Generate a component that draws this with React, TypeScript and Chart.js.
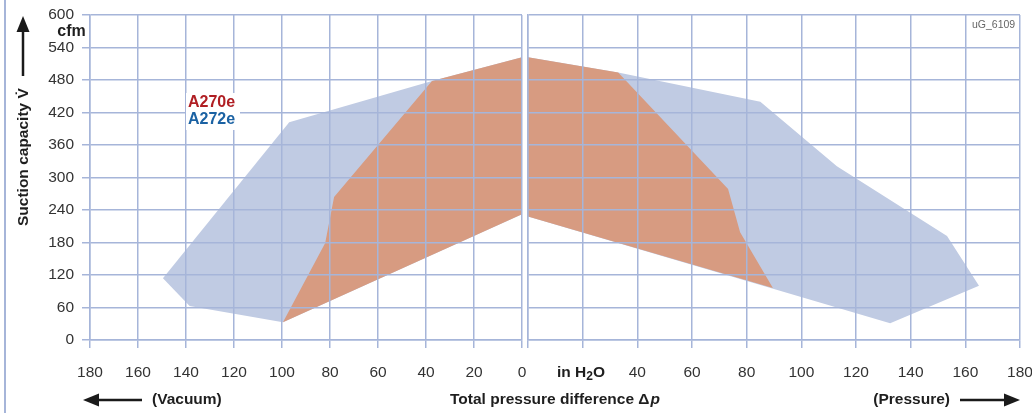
import React, { useEffect, useRef } from 'react';
import { Chart, registerables } from 'chart.js';

Chart.register(...registerables);

// ---- Data (in H2O vs cfm) ----
const yTickValues = [0, 60, 120, 180, 240, 300, 360, 420, 480, 540, 600];
const xTickValues = [0, 20, 40, 60, 80, 100, 120, 140, 160, 180];
const pressureHiddenTicks = [0, 20];

// Vacuum side (left panel)
const vacuumA270eX = [0, 99.6, 82, 78.3, 37.5, 0];
const vacuumA270eY = [232, 33, 179, 264, 478, 522];
const vacuumA272eX = [0, 99.6, 138.5, 149.6, 97, 37.5, 0];
const vacuumA272eY = [232, 33, 63, 114, 402, 478, 522];

// Pressure side (right panel)
const pressureA270eX = [0, 33, 73.2, 77.6, 89.6, 0];
const pressureA270eY = [522, 494, 279, 199, 96, 228];
const pressureA272eX = [0, 33, 85, 113, 153.3, 165, 132.5, 0];
const pressureA272eY = [522, 494, 440, 321, 192, 100, 31, 228];

const seriesNames = ['A270e', 'A272e'];
const seriesTextColors = ['#b01e23', '#1b62a3'];
const seriesFillColors = ['#d79b81', '#c0cbe3'];

const GRID = '#a6b5d9';
const FONT = "'Liberation Sans', Arial, Helvetica, sans-serif";
const TICK_COLOR = '#333333';
const TEXT_COLOR = '#1e1e1e';

const toPoints = (xs: number[], ys: number[]) => xs.map((x, i) => ({ x, y: ys[i] }));

function drawArrow(ctx: CanvasRenderingContext2D, x1: number, y1: number, x2: number, y2: number) {
  const head = 16;
  const half = 6.5;
  const dx = x2 - x1;
  const dy = y2 - y1;
  const len = Math.hypot(dx, dy);
  const ux = dx / len;
  const uy = dy / len;
  const bx = x2 - ux * head;
  const by = y2 - uy * head;
  ctx.strokeStyle = '#1a1a1a';
  ctx.fillStyle = '#1a1a1a';
  ctx.lineWidth = 2.5;
  ctx.beginPath();
  ctx.moveTo(x1, y1);
  ctx.lineTo(bx + ux * 2, by + uy * 2);
  ctx.stroke();
  ctx.beginPath();
  ctx.moveTo(x2, y2);
  ctx.lineTo(bx - uy * half, by + ux * half);
  ctx.lineTo(bx + uy * half, by - ux * half);
  ctx.closePath();
  ctx.fill();
}

function makeDatasets(a270x: number[], a270y: number[], a272x: number[], a272y: number[]) {
  return [
    {
      label: seriesNames[0],
      data: toPoints(a270x, a270y),
      showLine: true,
      fill: 'shape',
      backgroundColor: seriesFillColors[0],
      borderColor: seriesFillColors[0],
      borderWidth: 0,
      pointRadius: 0,
      tension: 0,
      order: 0,
    },
    {
      label: seriesNames[1],
      data: toPoints(a272x, a272y),
      showLine: true,
      fill: 'shape',
      backgroundColor: seriesFillColors[1],
      borderColor: seriesFillColors[1],
      borderWidth: 0,
      pointRadius: 0,
      tension: 0,
      order: 1,
    },
  ];
}

const leftTexts = {
  id: 'leftTexts',
  afterDraw(chart: any) {
    const ctx: CanvasRenderingContext2D = chart.ctx;
    ctx.save();
    // far-left frame line
    ctx.fillStyle = GRID;
    ctx.fillRect(4, 0, 2, 413);

    // y axis title
    ctx.save();
    ctx.translate(24, 226);
    ctx.rotate(-Math.PI / 2);
    ctx.font = `bold 15.5px ${FONT}`;
    ctx.fillStyle = TEXT_COLOR;
    ctx.textAlign = 'left';
    ctx.textBaseline = 'middle';
    ctx.fillText('Suction capacity V\u0307', 0, 0);
    ctx.restore();
    drawArrow(ctx, 23, 76, 23, 16);

    // unit
    ctx.font = `bold 16px ${FONT}`;
    ctx.fillStyle = TEXT_COLOR;
    ctx.textAlign = 'center';
    ctx.textBaseline = 'middle';
    ctx.fillText('cfm', 71.5, 32);

    // legend
    ctx.fillStyle = '#ffffff';
    ctx.fillRect(186, 93, 54, 37);
    ctx.font = `bold 16px ${FONT}`;
    ctx.textAlign = 'left';
    ctx.textBaseline = 'middle';
    ctx.fillStyle = seriesTextColors[0];
    ctx.fillText(seriesNames[0], 188, 103);
    ctx.fillStyle = seriesTextColors[1];
    ctx.fillText(seriesNames[1], 188, 120);

    // bottom annotations
    drawArrow(ctx, 142, 400, 83, 400);
    ctx.font = `bold 15.5px ${FONT}`;
    ctx.fillStyle = TEXT_COLOR;
    ctx.textAlign = 'left';
    ctx.textBaseline = 'middle';
    ctx.fillText('(Vacuum)', 152, 400);

    let x = 450;
    const t1 = 'Total pressure difference ';
    ctx.fillText(t1, x, 400);
    x += ctx.measureText(t1).width;
    ctx.fillText('\u0394', x, 400);
    x += ctx.measureText('\u0394').width;
    ctx.font = `italic bold 15.5px ${FONT}`;
    ctx.fillText('p', x + 1, 400);

    // unit "in H2O"
    ctx.font = `bold 15.5px ${FONT}`;
    let ux = 557;
    ctx.fillText('in H', ux, 373);
    ux += ctx.measureText('in H').width;
    ctx.font = `bold 12px ${FONT}`;
    ctx.fillText('2', ux, 377);
    ux += ctx.measureText('2').width;
    ctx.font = `bold 15.5px ${FONT}`;
    ctx.fillText('O', ux, 373);
    ctx.restore();
  },
};

const RIGHT_OFFSET = 520;

const rightTexts = {
  id: 'rightTexts',
  afterDraw(chart: any) {
    const ctx: CanvasRenderingContext2D = chart.ctx;
    ctx.save();
    ctx.font = `10.5px ${FONT}`;
    ctx.fillStyle = '#666666';
    ctx.textAlign = 'left';
    ctx.textBaseline = 'middle';
    ctx.fillText('uG_6109', 972 - RIGHT_OFFSET, 25);

    ctx.font = `bold 15.5px ${FONT}`;
    ctx.fillStyle = TEXT_COLOR;
    ctx.textAlign = 'right';
    ctx.fillText('(Pressure)', 950 - RIGHT_OFFSET, 400);
    drawArrow(ctx, 960 - RIGHT_OFFSET, 400, 1020 - RIGHT_OFFSET, 400);
    ctx.restore();
  },
};

function baseScales(reverse: boolean, showY: boolean, hiddenX: number[]) {
  return {
    x: {
      type: 'linear',
      min: 0,
      max: 180,
      reverse,
      afterBuildTicks: (scale: any) => {
        scale.ticks = xTickValues.map((v) => ({ value: v }));
      },
      afterFit: (scale: any) => {
        scale.height = 73;
        scale.paddingLeft = 0;
        scale.paddingRight = 0;
      },
      grid: { color: GRID, lineWidth: 1.5, tickLength: 8, z: 1 },
      border: { color: GRID, width: 1.5, z: 1 },
      ticks: {
        padding: 15,
        maxRotation: 0,
        autoSkip: false,
        color: TICK_COLOR,
        font: { family: FONT, size: 15.5 },
        callback: (v: any) => (hiddenX.indexOf(Number(v)) >= 0 ? '' : String(v)),
      },
    },
    y: {
      type: 'linear',
      min: 0,
      max: 600,
      afterBuildTicks: (scale: any) => {
        scale.ticks = yTickValues.map((v) => ({ value: v }));
      },
      afterFit: (scale: any) => {
        scale.width = showY ? 90 : 0;
        scale.paddingTop = 0;
        scale.paddingBottom = 0;
      },
      grid: { color: GRID, lineWidth: 1.5, tickLength: showY ? 8 : 0, drawTicks: showY, z: 1 },
      border: { color: GRID, width: 1.5, z: 1 },
      ticks: {
        display: showY,
        padding: 8,
        color: TICK_COLOR,
        font: { family: FONT, size: 15.5 },
        callback: (v: any) => String(v),
      },
    },
  };
}

export default function App() {
  const leftRef = useRef<HTMLCanvasElement>(null);
  const rightRef = useRef<HTMLCanvasElement>(null);

  useEffect(() => {
    const common = {
      responsive: false,
      maintainAspectRatio: false,
      animation: false,
      devicePixelRatio: 1,
      plugins: { legend: { display: false }, tooltip: { enabled: false } },
      events: [],
    };
    const left = new Chart(leftRef.current as HTMLCanvasElement, {
      type: 'scatter',
      data: { datasets: makeDatasets(vacuumA270eX, vacuumA270eY, vacuumA272eX, vacuumA272eY) as any },
      options: {
        ...common,
        layout: { padding: { left: 0, top: 15, right: 178, bottom: 0 } },
        scales: baseScales(true, true, []) as any,
      } as any,
      plugins: [leftTexts],
    });
    const right = new Chart(rightRef.current as HTMLCanvasElement, {
      type: 'scatter',
      data: { datasets: makeDatasets(pressureA270eX, pressureA270eY, pressureA272eX, pressureA272eY) as any },
      options: {
        ...common,
        layout: { padding: { left: 8, top: 15, right: 25, bottom: 0 } },
        scales: baseScales(false, false, pressureHiddenTicks) as any,
      } as any,
      plugins: [rightTexts],
    });
    return () => {
      left.destroy();
      right.destroy();
    };
  }, []);

  return (
    <div
      style={{
        position: 'fixed',
        left: 0,
        top: 0,
        width: 1032,
        height: 413,
        overflow: 'hidden',
        background: '#ffffff',
      }}
    >
      <canvas
        ref={leftRef}
        width={700}
        height={413}
        style={{ position: 'absolute', left: 0, top: 0, width: 700, height: 413 }}
      />
      <canvas
        ref={rightRef}
        width={525}
        height={413}
        style={{ position: 'absolute', left: RIGHT_OFFSET, top: 0, width: 525, height: 413 }}
      />
    </div>
  );
}
